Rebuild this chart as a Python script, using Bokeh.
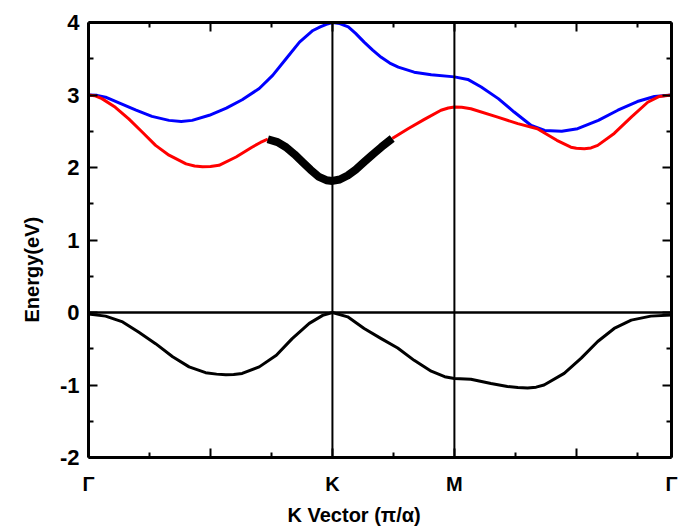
from bokeh.plotting import figure
from bokeh.models import Range1d, LinearAxis, FixedTicker, Span, Title
from bokeh.embed import file_html
from bokeh.resources import INLINE

# ---- data ----
k_end = 4.78
k_labels = {0: "Γ", 1: "", 2: "K", 3: "M", 4: "", k_end: "Γ"}

# upper conduction band (blue)
blue_x = [0.0, 0.07, 0.14, 0.25, 0.39, 0.52, 0.66, 0.76, 0.85, 0.99, 1.13, 1.26, 1.40, 1.51, 1.62,
          1.73, 1.84, 1.90, 1.95, 2.0, 2.06, 2.13, 2.19, 2.26, 2.33, 2.40, 2.47, 2.54, 2.67, 2.81,
          3.0, 3.11, 3.22, 3.36, 3.49, 3.63, 3.74, 3.88, 4.01, 4.18, 4.34, 4.50, 4.64, 4.78]
blue_y = [3.00, 2.995, 2.97, 2.89, 2.79, 2.705, 2.65, 2.636, 2.65, 2.72, 2.82, 2.935, 3.09, 3.27, 3.50,
          3.73, 3.89, 3.94, 3.975, 4.0, 3.985, 3.94, 3.85, 3.73, 3.62, 3.52, 3.44, 3.385, 3.315, 3.28,
          3.25, 3.215, 3.11, 2.95, 2.765, 2.58, 2.51, 2.50, 2.535, 2.65, 2.79, 2.91, 2.98, 3.00]

# lower conduction band (red), before the highlighted segment
red1_x = [0.0, 0.05, 0.11, 0.22, 0.33, 0.44, 0.55, 0.66, 0.80, 0.87, 0.935, 1.0, 1.07, 1.21, 1.34,
          1.41, 1.47]
red1_y = [3.00, 2.99, 2.95, 2.83, 2.67, 2.49, 2.305, 2.17, 2.05, 2.02, 2.01, 2.015, 2.03, 2.145, 2.28,
          2.345, 2.39]

# highlighted segment around K (black thick)
band_x = [1.47, 1.55, 1.62, 1.69, 1.755, 1.82, 1.89, 1.95, 2.0, 2.06, 2.125, 2.19, 2.26, 2.33, 2.40, 2.49]
band_y = [2.39, 2.35, 2.28, 2.18, 2.075, 1.97, 1.87, 1.825, 1.815, 1.835, 1.89, 1.97, 2.075, 2.18, 2.28, 2.40]

# lower conduction band (red), after the highlighted segment
red2_x = [2.49, 2.62, 2.75, 2.89, 2.95, 3.0, 3.06, 3.135, 3.355, 3.52, 3.68, 3.84, 3.955, 4.0, 4.065,
          4.12, 4.175, 4.31, 4.45, 4.585, 4.68, 4.78]
red2_y = [2.40, 2.535, 2.66, 2.79, 2.82, 2.835, 2.83, 2.81, 2.695, 2.605, 2.535, 2.375, 2.28, 2.265,
          2.26, 2.27, 2.305, 2.47, 2.695, 2.90, 2.98, 3.00]

# valence band (black)
val_x = [0.0, 0.14, 0.28, 0.41, 0.55, 0.69, 0.825, 0.96, 1.05, 1.126, 1.19, 1.26, 1.40, 1.54, 1.67,
         1.81, 1.92, 2.0, 2.125, 2.26, 2.40, 2.535, 2.67, 2.81, 2.92, 3.0, 3.135, 3.30, 3.435, 3.52,
         3.60, 3.67, 3.735, 3.90, 4.04, 4.175, 4.31, 4.45, 4.61, 4.78]
val_y = [-0.02, -0.05, -0.13, -0.27, -0.43, -0.61, -0.75, -0.83, -0.85, -0.86, -0.855, -0.84, -0.75,
         -0.59, -0.36, -0.15, -0.04, 0.0, -0.06, -0.22, -0.36, -0.49, -0.66, -0.81, -0.885, -0.91,
         -0.92, -0.98, -1.02, -1.035, -1.04, -1.03, -1.00, -0.84, -0.63, -0.40, -0.22, -0.105, -0.05,
         -0.035]

y_ticks = [-2, -1, 0, 1, 2, 3, 4]
y_labels = {-2: "-2", -1: "-1", 0: "0", 1: "1", 2: "2", 3: "3", 4: "4"}
y_minor = [-1.5, -0.5, 0.5, 1.5, 2.5, 3.5]
x_ticks = [0, 1, 2, 3, 4, k_end]
x_minor = [0.5, 1.5, 2.5, 3.5, 4.5]

FONT = "Liberation Sans"

p = figure(width=686, height=530, x_range=Range1d(0, k_end), y_range=Range1d(-2, 4),
           output_backend="svg", toolbar_location=None, x_axis_type=None, y_axis_type=None,
           min_border_left=88, min_border_right=15, min_border_top=22, min_border_bottom=73)
p.grid.visible = False
p.outline_line_color = None
p.background_fill_color = "white"
p.border_fill_color = "white"


def style(ax, show_labels):
    ax.axis_line_width = 3
    ax.axis_line_color = "black"
    ax.major_tick_in = 9
    ax.major_tick_out = 0
    ax.minor_tick_in = 5
    ax.minor_tick_out = 0
    ax.major_tick_line_width = 2
    ax.minor_tick_line_width = 2
    ax.major_tick_line_color = "black"
    ax.minor_tick_line_color = "black"
    if not show_labels:
        ax.major_label_text_font_size = "0px"
        ax.major_label_standoff = 0


bottom = LinearAxis(ticker=FixedTicker(ticks=x_ticks, minor_ticks=x_minor))
style(bottom, True)
bottom.major_label_overrides = k_labels
bottom.major_label_text_font = FONT
bottom.major_label_text_font_style = "bold"
bottom.major_label_text_font_size = "20px"
bottom.major_label_text_color = "black"
bottom.major_label_standoff = 15
p.add_layout(bottom, "below")

top = LinearAxis(ticker=FixedTicker(ticks=x_ticks, minor_ticks=x_minor))
style(top, False)
p.add_layout(top, "above")

left = LinearAxis(ticker=FixedTicker(ticks=y_ticks, minor_ticks=y_minor))
style(left, True)
left.major_label_overrides = y_labels
left.major_label_text_font = FONT
left.major_label_text_font_style = "bold"
left.major_label_text_font_size = "22px"
left.major_label_text_color = "black"
left.major_label_standoff = 9
p.add_layout(left, "left")

right = LinearAxis(ticker=FixedTicker(ticks=y_ticks, minor_ticks=y_minor))
style(right, False)
p.add_layout(right, "right")

# reference lines
p.add_layout(Span(location=2, dimension="height", line_color="black", line_width=2))
p.add_layout(Span(location=3, dimension="height", line_color="black", line_width=2))
p.add_layout(Span(location=0, dimension="width", line_color="black", line_width=2.5))

# bands
p.line(blue_x, blue_y, line_color="#0000ff", line_width=3, line_join="round")
p.line(red1_x, red1_y, line_color="#ff0000", line_width=3, line_join="round")
p.line(red2_x, red2_y, line_color="#ff0000", line_width=3, line_join="round")
p.line(band_x, band_y, line_color="black", line_width=8, line_join="round")
p.line(val_x, val_y, line_color="black", line_width=3, line_join="round")

# axis titles
ytitle = Title(text="Energy(eV)", align="left", offset=135, text_font=FONT, text_font_style="bold",
               text_font_size="20px", text_color="black", standoff=28)
p.add_layout(ytitle, "left")
xtitle = Title(text="K Vector (π/α)", align="left", offset=199, text_font=FONT, text_font_style="bold",
               text_font_size="20px", text_color="black", standoff=9)
p.add_layout(xtitle, "below")

open("out.html", "w").write(file_html(p, INLINE))
